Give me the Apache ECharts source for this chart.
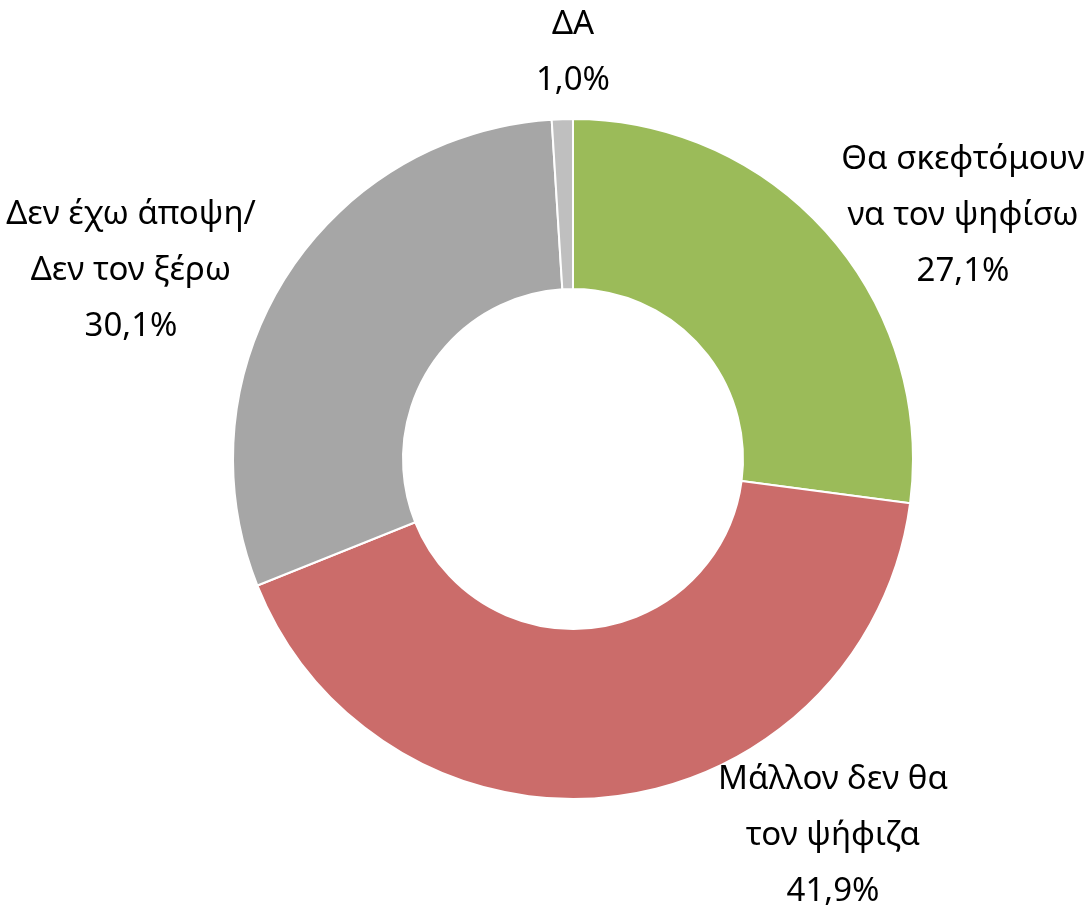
<!DOCTYPE html>
<html><head><meta charset="utf-8">
<script src="https://cdn.jsdelivr.net/npm/echarts@6/dist/echarts.min.js"></script>
<style>html,body{margin:0;padding:0;background:#fff}#c{width:1092px;height:909px}</style>
</head><body><div id="c"></div>
<script>
const categories = ['Θα σκεφτόμουν\nνα τον ψηφίσω', 'Μάλλον δεν θα\nτον ψήφιζα', 'Δεν έχω άποψη/\nΔεν τον ξέρω', 'ΔΑ'];
const values = [27.1, 41.9, 30.1, 1.0];
const colors = ['#9BBB59', '#CB6C6A', '#A6A6A6', '#BFBFBF'];
const labelPos = [[963, 216], [833, 836], [131, 271], [573, 53]];

const chart = echarts.init(document.getElementById('c'));
chart.setOption({
  animation: false,
  series: [{
    type: 'pie',
    center: [573, 459],
    radius: [170, 340],
    startAngle: 90,
    clockwise: true,
    itemStyle: { borderColor: '#fff', borderWidth: 2 },
    label: {
      show: true,
      position: 'inside',
      overflow: 'none',
      formatter: p => p.name + '\n' + p.value.toFixed(1).replace('.', ',') + '%',
      fontFamily: 'Noto Sans',
      fontSize: 33,
      lineHeight: 56,
      color: '#000',
      align: 'center'
    },
    labelLine: { show: false },
    labelLayout: p => ({ x: labelPos[p.dataIndex][0], y: labelPos[p.dataIndex][1], align: 'center', verticalAlign: 'middle' }),
    data: categories.map((c, i) => ({ name: c, value: values[i], itemStyle: { color: colors[i] } }))
  }]
});
</script></body></html>
